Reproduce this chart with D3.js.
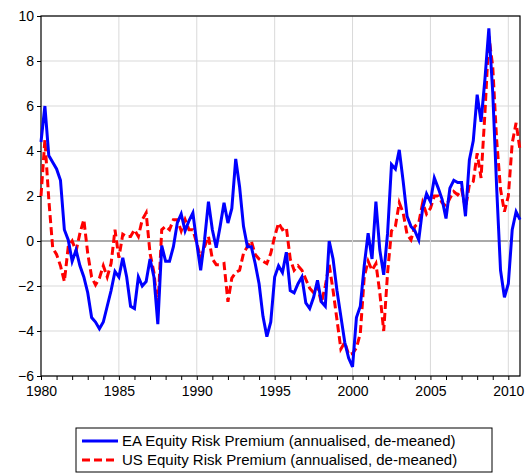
<!DOCTYPE html><html><head><meta charset="utf-8"><script src="https://cdn.jsdelivr.net/npm/d3@7"></script>
<style>body{margin:0;background:#fff}text{font-family:"Liberation Sans",Arial,sans-serif}</style></head><body><svg id="c" width="526" height="474"></svg><script>
const startYear = 1980;
const ea = [4.4,6.0,3.8,3.5,3.2,2.7,0.5,0.05,-0.9,-0.4,-1.1,-1.6,-2.3,-3.4,-3.6,-3.9,-3.6,-2.9,-2.2,-1.35,-1.6,-0.75,-1.6,-2.9,-3.0,-1.6,-2.0,-1.8,-0.8,-1.6,-3.7,-0.2,-0.9,-0.9,-0.25,0.8,1.2,0.45,0.9,1.25,-0.1,-1.3,0.05,1.75,0.5,-0.3,0.65,1.7,0.8,1.45,3.65,2.4,0.65,-0.25,-0.25,-1.0,-1.9,-3.35,-4.25,-3.6,-1.6,-1.1,-1.4,-0.5,-2.2,-2.3,-1.9,-1.6,-2.75,-3.0,-2.5,-1.75,-2.7,-2.9,0.0,-0.8,-2.2,-3.35,-4.5,-5.2,-5.6,-3.4,-2.9,-1.1,0.35,-0.8,1.75,-0.4,-1.5,0.35,3.4,3.2,4.05,2.65,1.1,0.65,0.45,0.05,1.45,2.1,1.75,2.8,2.35,1.85,1.0,2.35,2.7,2.6,2.6,1.1,3.6,4.45,6.5,5.3,7.2,9.45,6.6,2.4,-1.3,-2.5,-1.9,0.5,1.3,0.95];
const us = [2.0,4.5,1.85,-0.3,-0.6,-1.1,-1.8,-0.25,0.0,-0.45,0.35,0.95,-0.55,-1.6,-1.95,-1.65,-1.1,-1.6,-1.0,0.5,-0.75,0.3,0.2,0.2,0.5,0.2,0.95,1.25,-0.55,-1.4,-3.05,0.5,0.65,0.5,0.95,0.95,0.45,0.95,0.5,0.5,-0.1,-0.75,-0.25,0.2,-0.8,-1.05,-1.05,-1.0,-2.7,-1.65,-1.4,-1.3,-0.55,-0.25,0.0,-0.6,-0.8,-0.9,-1.0,-0.55,0.2,0.8,0.5,0.6,-0.8,-1.3,-1.1,-1.3,-1.7,-2.1,-2.3,-2.0,-2.75,-2.0,-1.05,-2.2,-3.5,-4.8,-4.5,-5.05,-5.0,-4.75,-4.1,-1.6,-0.9,-1.3,-1.0,-2.3,-4.0,-1.4,0.45,0.65,1.7,1.25,0.3,0.05,0.65,0.8,1.7,1.2,1.45,2.0,2.0,1.7,1.55,1.9,2.2,2.05,2.3,1.45,2.5,2.65,3.9,2.8,5.7,9.1,7.75,4.5,2.3,1.3,2.0,4.35,5.25,4.05];
const yTicks = [-6,-4,-2,0,2,4,6,8,10];
const xTicks = [1980,1985,1990,1995,2000,2005,2010];
const labels = ["EA Equity Risk Premium (annualised, de-meaned)","US Equity Risk Premium (annualised, de-meaned)"];

const svg = d3.select("#c");
const L=41,R=520,T=16,B=376;
const x = d3.scaleLinear().domain([1980,2010.75]).range([L,R]);
const y = d3.scaleLinear().domain([-6,10]).range([B,T]);
const g = svg.append("g");
g.selectAll(".gy").data(yTicks).join("line").attr("x1",L).attr("x2",R).attr("y1",d=>y(d)).attr("y2",d=>y(d)).attr("stroke",d=>d===0?"#555":"#d9d9d9").attr("stroke-width",1);
g.selectAll(".gx").data(xTicks.filter(d=>d>1980)).join("line").attr("x1",d=>x(d)).attr("x2",d=>x(d)).attr("y1",T).attr("y2",B).attr("stroke","#d9d9d9");
const ya = svg.append("g").attr("transform",`translate(${L},0)`).call(d3.axisLeft(y).tickValues(yTicks).tickSize(4).tickFormat(d3.format("d")));
const xa = svg.append("g").attr("transform",`translate(0,${B})`).call(d3.axisBottom(x).tickValues(d3.range(1980,2011)).tickSize(4).tickFormat(d=>xTicks.includes(d)?d:""));
[ya,xa].forEach(a=>{a.selectAll("text").attr("font-size",14).attr("fill","#000");a.select(".domain").remove();a.selectAll("line").attr("stroke","#000");});
xa.selectAll("text").attr("dy","0.9em");
svg.append("rect").attr("x",L).attr("y",T).attr("width",R-L).attr("height",B-T).attr("fill","none").attr("stroke","#000").attr("stroke-width",1.2);
const line = d3.line().x((d,i)=>x(startYear+i/4)).y(d=>y(d));
svg.append("path").datum(us).attr("d",line).attr("fill","none").attr("stroke","#ff0000").attr("stroke-width",3).attr("stroke-dasharray","8,4");
svg.append("path").datum(ea).attr("d",line).attr("fill","none").attr("stroke","#0000ff").attr("stroke-width",3);
const lg = svg.append("g");
lg.append("rect").attr("x",76).attr("y",428).attr("width",416).attr("height",44).attr("fill","#fff").attr("stroke","#000");
[["#0000ff",null],["#ff0000","8,4"]].forEach((s,i)=>{
  const yy=441+i*19;
  lg.append("line").attr("x1",82).attr("x2",118).attr("y1",yy).attr("y2",yy).attr("stroke",s[0]).attr("stroke-width",3).attr("stroke-dasharray",s[1]);
  lg.append("text").attr("x",122).attr("y",yy+5).attr("font-size",15).text(labels[i]);
});
</script></body></html>
